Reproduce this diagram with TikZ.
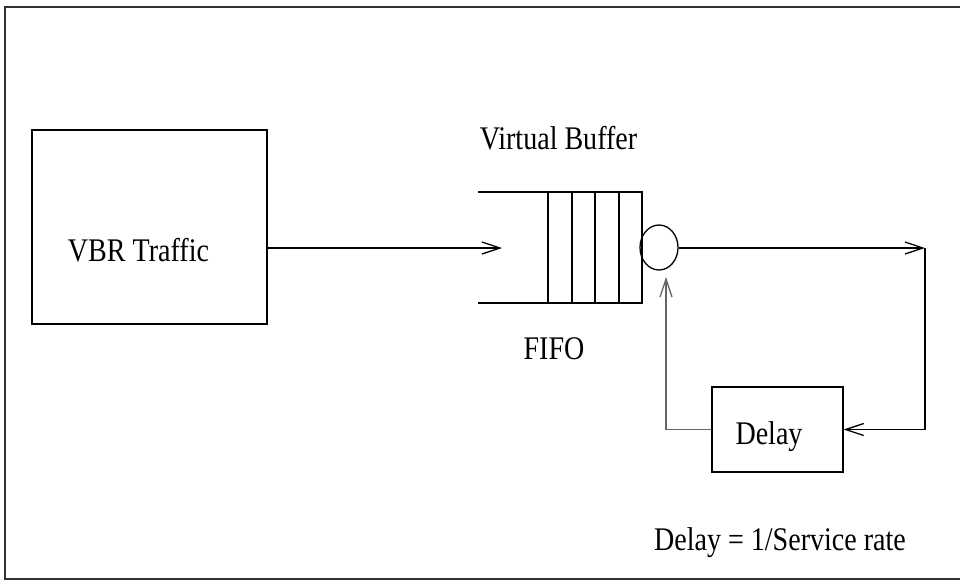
\documentclass[tikz,border=0pt]{standalone}
\usepackage{fontspec}
\setmainfont{Liberation Serif}[FakeStretch=0.85]
\usetikzlibrary{arrows.meta,shapes.geometric,calc}
\tikzset{
  ln/.style={line width=1.3pt, black},
  arr/.style={ln, -{Straight Barb[length=18pt,width=12pt,line width=1.3pt]}},
  boxst/.style={draw, line width=1.3pt, rectangle, inner sep=0pt},
  lbl/.style={font=\fontsize{33}{36}\selectfont, inner sep=0pt, anchor=base},
  framest/.style={line width=1.6pt, black!80}
}
\begin{document}
\begin{tikzpicture}[x=1pt,y=-1pt]
\useasboundingbox (0,0) rectangle (960,582);
\fill[white] (0,0) rectangle (960,582);
% frame
\coordinate (ftr) at (962,7);
\coordinate (ftl) at (5,7);
\coordinate (fbl) at (5,579);
\coordinate (fbr) at (962,579);
\draw[framest] (ftr) -- (ftl) -- (fbl) -- (fbr);
% VBR traffic box
\node[boxst, minimum width=235pt, minimum height=194pt] (vbr) at (149.5,227) {};
\node[lbl] (vbrt) at (138.5,261) {VBR Traffic};
% queue
\coordinate (qtl) at (478,192);
\coordinate (qbl) at (478,303);
\coordinate (qtr) at (642,192);
\coordinate (qbr) at (642,303);
\draw[ln] (qtl) -- (qtr) -- (qbr) -- (qbl);
\foreach \x/\n in {548/a,572/b,595/c,619/d}{
  \coordinate (s\n t) at (\x,192);
  \coordinate (s\n b) at (\x,303);
  \draw[ln] (s\n t) -- (s\n b);
}
% server
\node[draw, ellipse, line width=1.3pt, minimum width=38pt, minimum height=45pt, inner sep=0pt] (srv) at (659,247.5) {};
% labels
\node[lbl] (vb) at (558.5,149) {Virtual Buffer};
\node[lbl] (fifo) at (554,359) {FIFO};
% delay box
\node[boxst, minimum width=131pt, minimum height=85pt] (delay) at (777.5,429.5) {};
\node[lbl] (delayt) at (769,444) {Delay};
\node[lbl] (eq) at (780,550) {Delay = 1/Service rate};
% connectors
\coordinate (qin) at (502,248);
\coordinate (out) at (925,248);
\coordinate (fb) at (666,277);
\draw[arr] (vbr.east |- qin) -- (qin);
\draw[arr] (srv.east |- out) -- (out);
\draw[arr] (out) |- (delay.east);
\draw[arr, black!60] (delay.west) -| (fb);
\end{tikzpicture}
\end{document}
